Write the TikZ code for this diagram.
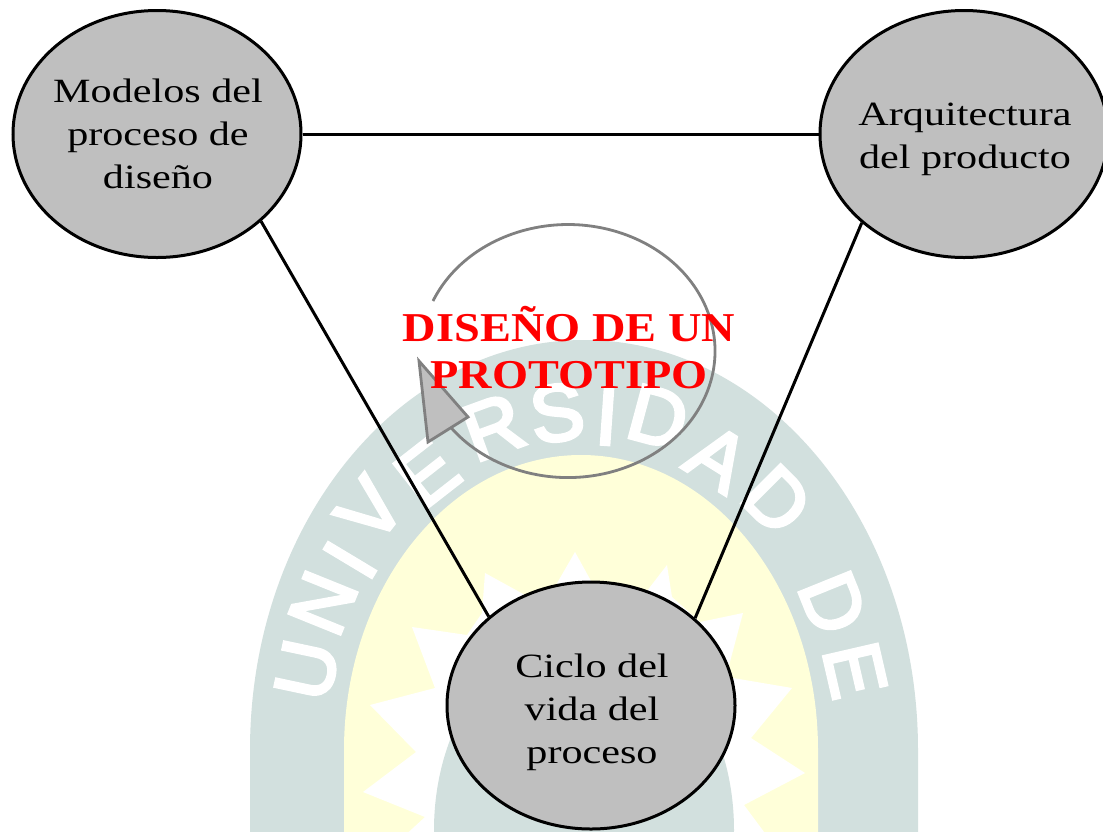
\documentclass[tikz,border=0pt]{standalone}
\usepackage{fontspec}
\usetikzlibrary{shapes.geometric}
\newfontfamily\labelfont[FakeStretch=1.24]{Liberation Serif}
\newfontfamily\titlefont[FakeStretch=1.13]{Liberation Serif}
\newfontfamily\markfont[FakeBold=4]{Liberation Sans}
\definecolor{wmteal}{HTML}{D2E0DE}
\definecolor{wmyellow}{HTML}{FFFFD9}
\definecolor{nodegray}{HTML}{BFBFBF}
\definecolor{arcgray}{HTML}{808080}
\tikzset{
  x=1pt,y=-1pt,
  topic/.style={ellipse,draw=black,line width=3pt,fill=nodegray,minimum width=288pt,minimum height=247pt,inner sep=0pt},
  topictext/.style={inner sep=0pt,align=center,font=\labelfont\fontsize{34}{43}\selectfont},
  link/.style={draw=black,line width=3pt},
  wmletter/.style={text=white,inner sep=0pt,font=\markfont\fontsize{80}{80}\selectfont},
  cycleline/.style={draw=arcgray,line width=2.8pt},
  title/.style={text=red,inner sep=0pt,align=center,font=\titlefont\bfseries\fontsize{41}{47}\selectfont}
}
\begin{document}
\begin{tikzpicture}
\useasboundingbox (0,0) rectangle (1103,831);
\clip (0,0) rectangle (1103,831);
\fill[white] (0,0) rectangle (1103,831);
% watermark
\fill[wmteal] (250,840) -- (250,750) arc[start angle=180,end angle=0,x radius=334pt,y radius=410pt] -- (918,840) -- cycle;
\fill[wmyellow] (344,840) -- (344,750) arc[start angle=180,end angle=0,x radius=237pt,y radius=295pt] -- (818,840) -- cycle;
\fill[white] (575,552) -- (596,590) -- (640,600) -- (667,565) -- (672,597) -- (700,622) -- (743,613) -- (727,673) -- (733,678) -- (792,688) -- (751,738) -- (805,773) -- (744,805) -- (770,840) -- (400,840) -- (425,817) -- (363,792) -- (416,752) -- (370,705) -- (435,688) -- (412,627) -- (467,635) -- (482,613) -- (485,573) -- (525,595) -- (556,585) -- cycle;
\fill[wmteal] (584,830) ellipse [x radius=150pt,y radius=200pt];
\node[wmletter,rotate=78] (w1) at (307,670) {U};
\node[wmletter,rotate=68] (w2) at (323,603) {N};
\node[wmletter,rotate=59] (w3) at (350,560) {I};
\node[wmletter,rotate=52] (w4) at (370,510) {V};
\node[wmletter,rotate=38] (w5) at (427,473) {E};
\node[wmletter,rotate=20] (w6) at (493,427) {R};
\node[wmletter,rotate=8] (w7) at (557,413) {S};
\node[wmletter,rotate=-4] (w8) at (607,417) {I};
\node[wmletter,rotate=-15] (w9) at (658,417) {D};
\node[wmletter,rotate=-32] (w10) at (718,458) {A};
\node[wmletter,rotate=-45] (w11) at (777,500) {D};
\node[wmletter,rotate=-68] (w12) at (833,603) {D};
\node[wmletter,rotate=-77] (w13) at (855,670) {E};
% cycle arrow
\coordinate (arcstart) at (433,301);
\coordinate (tip1) at (419,361);
\coordinate (tip2) at (468,417);
\coordinate (tip3) at (428,442);
\draw[cycleline] (arcstart) arc[start angle=156.7,end angle=-143,x radius=147pt,y radius=126.5pt];
\draw[cycleline,fill=nodegray,line join=miter] (tip1) -- (tip2) -- (tip3) -- cycle;
% nodes
\node[topic] (a) at (157,134) {};
\node[topic] (b) at (964,134) {};
\node[topic] (c) at (591,705.5) {};
\draw[link] (a) -- (b);
\draw[link] (a.-40.5) -- (c.139.7);
\draw[link] (b.-139.7) -- (c.40.6);
\node[topictext] (ta) at (158,134) {Modelos del\\proceso de\\diseño};
\node[topictext] (tb) at (965,139) {Arquitectura\\del producto};
\node[topictext] (tc) at (592,712) {Ciclo del\\vida del\\proceso};
\node[title] (t) at (569,348) {DISEÑO DE UN\\PROTOTIPO};
\end{tikzpicture}
\end{document}
